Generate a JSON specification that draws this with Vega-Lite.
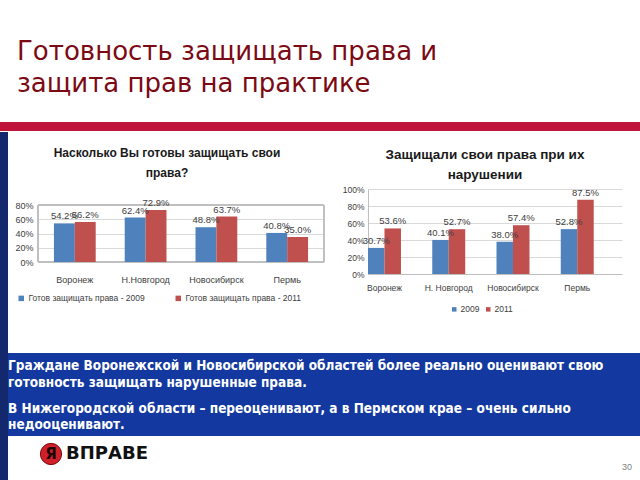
{
  "$schema": "https://vega.github.io/schema/vega-lite/v6.json",
  "background": "white",
  "padding": {"top": 38, "left": 0, "right": 0, "bottom": 0},
  "config": {
    "view": {"stroke": null},
    "font": "Liberation Sans"
  },
  "datasets": {
    "ready": [
      {"city": "Воронеж", "series": "Готов защищать права - 2009", "value": 0.542},
      {"city": "Воронеж", "series": "Готов защищать права - 2011", "value": 0.562},
      {"city": "Н.Новгород", "series": "Готов защищать права - 2009", "value": 0.624},
      {"city": "Н.Новгород", "series": "Готов защищать права - 2011", "value": 0.729},
      {"city": "Новосибирск", "series": "Готов защищать права - 2009", "value": 0.488},
      {"city": "Новосибирск", "series": "Готов защищать права - 2011", "value": 0.637},
      {"city": "Пермь", "series": "Готов защищать права - 2009", "value": 0.408},
      {"city": "Пермь", "series": "Готов защищать права - 2011", "value": 0.350}
    ],
    "defended": [
      {"city": "Воронеж", "series": "2009", "value": 0.307},
      {"city": "Воронеж", "series": "2011", "value": 0.536},
      {"city": "Н. Новгород", "series": "2009", "value": 0.401},
      {"city": "Н. Новгород", "series": "2011", "value": 0.527},
      {"city": "Новосибирск", "series": "2009", "value": 0.380},
      {"city": "Новосибирск", "series": "2011", "value": 0.574},
      {"city": "Пермь", "series": "2009", "value": 0.528},
      {"city": "Пермь", "series": "2011", "value": 0.875}
    ]
  },
  "columns": 1,
  "spacing": 0,
  "resolve": {"scale": {"color": "independent", "xOffset": "independent"}, "legend": {"color": "independent"}},
  "concat": [
    {
      "width": 640,
      "height": 9,
      "title": {
        "text": ["Готовность защищать права и", "защита прав на практике"],
        "anchor": "start",
        "frame": "group",
        "font": "DejaVu Sans",
        "fontSize": 26,
        "fontWeight": "normal",
        "lineHeight": 32,
        "color": "#7B0A14",
        "offset": 24,
        "dx": 17
      },
      "view": {"fill": "#C0143C", "stroke": null},
      "data": {"values": [{}]},
      "mark": {"type": "text", "text": ""}
    },
    {
      "columns": 1,
      "spacing": 0,
      "resolve": {"scale": {"color": "independent", "xOffset": "independent"}, "legend": {"color": "independent"}},
      "concat": [
        {
          "spacing": 0,
          "resolve": {"scale": {"color": "independent", "xOffset": "independent"}, "legend": {"color": "independent"}},
          "concat": [
            {
              "width": 8,
              "height": 221,
              "view": {"fill": "#14286E", "stroke": null},
              "data": {"values": [{}]},
              "mark": {"type": "text", "text": ""}
            },
            {
              "columns": 1,
              "spacing": 0,
              "resolve": {"scale": {"color": "independent", "xOffset": "independent"}, "legend": {"color": "independent"}},
              "concat": [
                {
                  "width": 1,
                  "height": 15,
                  "data": {"values": [{}]},
                  "mark": {"type": "text", "text": ""}
                },
                {
                  "spacing": 17,
                  "resolve": {"scale": {"color": "independent", "xOffset": "independent"}, "legend": {"color": "independent"}},
                  "concat": [
                    {
                      "width": 286,
                      "height": 73,
                      "title": {
                        "text": ["Насколько Вы готовы защищать свои", "права?"],
                        "fontSize": 12,
                        "fontWeight": "bold",
                        "lineHeight": 20,
                        "color": "#1A1A1A",
                        "offset": 9,
                        "dx": -14
                      },
                      "data": {"name": "ready"},
                      "encoding": {
                        "x": {
                          "field": "city",
                          "type": "nominal",
                          "sort": ["Воронеж", "Н.Новгород", "Новосибирск", "Пермь"],
                          "scale": {"paddingInner": 0.41, "paddingOuter": 0.225},
                          "axis": {"title": null, "labelAngle": 0, "ticks": false, "domain": false, "labelPadding": 13, "labelFontSize": 9, "labelColor": "#404040"}
                        },
                        "y": {
                          "field": "value",
                          "type": "quantitative",
                          "scale": {"domain": [0, 1.0246], "nice": false},
                          "axis": {"title": null, "values": [0, 0.2, 0.4, 0.6, 0.8], "format": ".0%", "ticks": false, "domain": false, "gridColor": "#D9D9D9", "labelFontSize": 9, "labelColor": "#404040", "labelPadding": 5, "minExtent": 30, "maxExtent": 30}
                        }
                      },
                      "layer": [
                        {
                          "mark": {"type": "rect", "fill": null, "stroke": "#BFBFBF", "strokeWidth": 1},
                          "encoding": {"x": null, "y": {"datum": 0}, "y2": {"datum": 0.8}}
                        },
                        {
                          "mark": {"type": "bar"},
                          "encoding": {
                            "xOffset": {"field": "series", "type": "nominal", "scale": {"paddingInner": 0, "paddingOuter": 0}},
                            "color": {
                              "field": "series",
                              "type": "nominal",
                              "scale": {"range": ["#4F81BD", "#C0504D"]},
                              "legend": {"orient": "none", "legendX": -21, "legendY": 105, "title": null, "direction": "horizontal", "symbolType": "square", "symbolSize": 30, "symbolStrokeWidth": 0, "labelFontSize": 8.5, "labelColor": "#404040", "labelOffset": 3, "columnPadding": 29}
                            }
                          }
                        },
                        {
                          "transform": [{"filter": {"field": "series", "equal": "Готов защищать права - 2009"}}],
                          "mark": {"type": "text", "baseline": "bottom", "dy": -2, "fontSize": 9.5, "color": "#404040"},
                          "encoding": {
                            "x": {"field": "city", "type": "nominal", "sort": ["Воронеж", "Н.Новгород", "Новосибирск", "Пермь"], "bandPosition": 0.25},
                            "text": {"field": "value", "type": "quantitative", "format": ".1%"}
                          }
                        },
                        {
                          "transform": [{"filter": {"field": "series", "equal": "Готов защищать права - 2011"}}],
                          "mark": {"type": "text", "baseline": "bottom", "dy": -2, "fontSize": 9.5, "color": "#404040"},
                          "encoding": {
                            "x": {"field": "city", "type": "nominal", "sort": ["Воронеж", "Н.Новгород", "Новосибирск", "Пермь"], "bandPosition": 0.75},
                            "text": {"field": "value", "type": "quantitative", "format": ".1%"}
                          }
                        }
                      ]
                    },
                    {
                      "width": 254,
                      "height": 85,
                      "title": {
                        "text": ["Защищали свои права при их", "нарушении"],
                        "fontSize": 13.5,
                        "fontWeight": "bold",
                        "lineHeight": 20,
                        "color": "#1A1A1A",
                        "offset": 4,
                        "dx": -10
                      },
                      "data": {"name": "defended"},
                      "encoding": {
                        "x": {
                          "field": "city",
                          "type": "nominal",
                          "sort": ["Воронеж", "Н. Новгород", "Новосибирск", "Пермь"],
                          "scale": {"paddingInner": 0.487, "paddingOuter": 0.22, "align": 0},
                          "axis": {"title": null, "labelAngle": 0, "ticks": false, "domain": true, "domainColor": "#BFBFBF", "labelPadding": 9, "labelFontSize": 8.5, "labelColor": "#404040"}
                        },
                        "y": {
                          "field": "value",
                          "type": "quantitative",
                          "scale": {"domain": [0, 1], "nice": false},
                          "axis": {"title": null, "values": [0, 0.2, 0.4, 0.6, 0.8, 1], "format": ".0%", "ticks": false, "domain": true, "domainColor": "#BFBFBF", "gridColor": "#D9D9D9", "labelFontSize": 8.5, "labelColor": "#404040", "labelPadding": 4, "minExtent": 25, "maxExtent": 25}
                        }
                      },
                      "layer": [
                        {
                          "mark": {"type": "bar"},
                          "encoding": {
                            "xOffset": {"field": "series", "type": "nominal", "scale": {"paddingInner": 0, "paddingOuter": 0}},
                            "color": {
                              "field": "series",
                              "type": "nominal",
                              "scale": {"range": ["#4F81BD", "#C0504D"]},
                              "legend": {"orient": "none", "legendX": 82, "legendY": 116, "title": null, "direction": "horizontal", "symbolType": "square", "symbolSize": 20, "symbolStrokeWidth": 0, "labelFontSize": 8.5, "labelColor": "#404040", "labelOffset": 2, "columnPadding": 4}
                            }
                          }
                        },
                        {
                          "transform": [{"filter": {"field": "series", "equal": "2009"}}],
                          "mark": {"type": "text", "baseline": "bottom", "dy": -2, "fontSize": 9.5, "color": "#404040"},
                          "encoding": {
                            "x": {"field": "city", "type": "nominal", "sort": ["Воронеж", "Н. Новгород", "Новосибирск", "Пермь"], "bandPosition": 0.25},
                            "text": {"field": "value", "type": "quantitative", "format": ".1%"}
                          }
                        },
                        {
                          "transform": [{"filter": {"field": "series", "equal": "2011"}}],
                          "mark": {"type": "text", "baseline": "bottom", "dy": -2, "fontSize": 9.5, "color": "#404040"},
                          "encoding": {
                            "x": {"field": "city", "type": "nominal", "sort": ["Воронеж", "Н. Новгород", "Новосибирск", "Пермь"], "bandPosition": 0.75},
                            "text": {"field": "value", "type": "quantitative", "format": ".1%"}
                          }
                        }
                      ]
                    }
                  ]
                }
              ]
            }
          ]
        },
        {
          "spacing": 0,
          "concat": [
            {
              "width": 8,
              "height": 128,
              "view": {"fill": "#14286E", "stroke": null},
              "data": {"values": [{}]},
              "mark": {"type": "text", "text": ""}
            },
            {
              "columns": 1,
              "spacing": 5,
              "concat": [
                {
                  "width": 632,
                  "height": 83,
                  "view": {"fill": "#1339A0", "stroke": null},
                  "data": {"values": [{}]},
                  "mark": {"type": "text", "text": ""},
                  "title": {
                    "text": [" Граждане Воронежской и Новосибирской областей более реально оценивают свою", "готовность защищать нарушенные права."],
                    "subtitle": ["В Нижегородской области – переоценивают, а в Пермском крае – очень сильно", "недооценивают."],
                    "anchor": "start",
                    "frame": "group",
                    "orient": "top",
                    "offset": -78.5,
                    "font": "DejaVu Sans Condensed, Liberation Sans, sans-serif",
                    "fontSize": 13.5,
                    "fontWeight": "bold",
                    "color": "white",
                    "lineHeight": 17,
                    "subtitleFont": "DejaVu Sans Condensed, Liberation Sans, sans-serif",
                    "subtitleFontSize": 13.5,
                    "subtitleFontWeight": "bold",
                    "subtitleColor": "white",
                    "subtitleLineHeight": 16,
                    "subtitlePadding": 13
                  }
                },
                {
                  "spacing": 0,
                  "concat": [
                    {
                      "width": 30,
                      "height": 26,
                      "data": {"values": [{}]},
                      "mark": {"type": "text", "text": ""}
                    },
                    {
                      "width": 24,
                      "height": 26,
                      "data": {"values": [{"t": "Я"}]},
                      "layer": [
                        {"mark": {"type": "circle", "size": 452, "color": "#D0202A", "opacity": 1, "stroke": "#7A0A0A", "strokeWidth": 1}, "encoding": {}},
                        {"mark": {"type": "text", "fontSize": 15, "fontWeight": "bold", "color": "#1A0000", "font": "DejaVu Sans"}, "encoding": {"text": {"field": "t"}}}
                      ]
                    },
                    {
                      "width": 86,
                      "height": 26,
                      "data": {"values": [{"t": "ВПРАВЕ"}]},
                      "mark": {"type": "text", "fontSize": 18, "fontWeight": "bold", "color": "#111111", "font": "DejaVu Sans"},
                      "encoding": {"text": {"field": "t"}}
                    },
                    {
                      "width": 471,
                      "height": 26,
                      "data": {"values": [{}]},
                      "mark": {"type": "text", "text": ""}
                    },
                    {
                      "width": 12,
                      "height": 52,
                      "data": {"values": [{"page": "30"}]},
                      "mark": {"type": "text", "fontSize": 9, "color": "#7F7F7F"},
                      "encoding": {"text": {"field": "page"}}
                    }
                  ]
                }
              ]
            }
          ]
        }
      ]
    }
  ]
}
